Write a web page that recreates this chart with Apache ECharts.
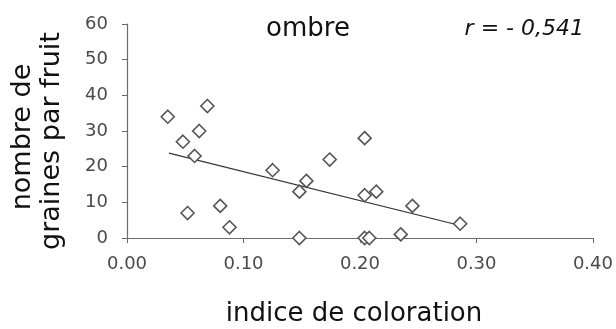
<!DOCTYPE html>
<html>
<head>
<meta charset="utf-8">
<script src="https://cdn.jsdelivr.net/npm/echarts@6/dist/echarts.min.js"></script>
<style>
html,body{margin:0;padding:0;background:#fff;}
#chart{width:616px;height:329px;}
</style>
</head>
<body>
<div id="chart"></div>
<script>
// Data
var xValues = [0.035, 0.048, 0.069, 0.062, 0.058, 0.052, 0.080, 0.088, 0.125, 0.148, 0.154, 0.148, 0.174, 0.204, 0.204, 0.214, 0.245, 0.286, 0.204, 0.208, 0.235];
var yValues = [34, 27, 37, 30, 23, 7, 9, 3, 19, 13, 16, 0, 22, 28, 12, 13, 9, 4, 0, 0, 1];
var trendX = [0.036, 0.286];
var trendY = [23.8, 3.5];
var xTicks = [0, 0.1, 0.2, 0.3, 0.4];
var yTicks = [0, 10, 20, 30, 40, 50, 60];
var titleText = 'ombre';
var rText = 'r = - 0,541';
var xTitle = 'indice de coloration';
var yTitle1 = 'nombre de';
var yTitle2 = 'graines par fruit';

var pts = xValues.map(function (x, i) { return [x, yValues[i]]; });
var trend = trendX.map(function (x, i) { return [x, trendY[i]]; });
var FONT = 'DejaVu Sans';

var chart = echarts.init(document.getElementById('chart'), null, {renderer: 'canvas'});
chart.setOption({
  animation: false,
  backgroundColor: '#fff',
  grid: {left: 127, right: 22, top: 24, bottom: 91, containLabel: false},
  xAxis: {
    type: 'value',
    min: xTicks[0], max: xTicks[xTicks.length - 1], interval: 0.1,
    axisLine: {show: true, lineStyle: {color: '#6a6a6a', width: 1.2}},
    axisTick: {show: true, inside: false, length: 5, lineStyle: {color: '#6a6a6a'}},
    splitLine: {show: false},
    axisLabel: {
      margin: 17, color: '#4a4a4a', fontFamily: FONT, fontSize: 18,
      formatter: function (v) { return v.toFixed(2); }
    }
  },
  yAxis: {
    type: 'value',
    min: yTicks[0], max: yTicks[yTicks.length - 1], interval: 10,
    axisLine: {show: true, lineStyle: {color: '#6a6a6a', width: 1.2}},
    axisTick: {show: true, inside: false, length: 5, lineStyle: {color: '#6a6a6a'}},
    splitLine: {show: false},
    axisLabel: {margin: 19, color: '#4a4a4a', fontFamily: FONT, fontSize: 18}
  },
  graphic: [
    {type: 'text', left: null, x: 308, y: 29, style: {text: titleText, font: '26px "' + FONT + '"', fill: '#111', textAlign: 'center', textVerticalAlign: 'middle'}},
    {type: 'text', x: 584, y: 29, style: {text: rText, font: 'italic 22px "' + FONT + '"', fill: '#111', textAlign: 'right', textVerticalAlign: 'middle'}},
    {type: 'text', x: 354, y: 314, style: {text: xTitle, font: '26px "' + FONT + '"', fill: '#111', textAlign: 'center', textVerticalAlign: 'middle'}},
    {type: 'text', x: 23, y: 137, rotation: Math.PI / 2, style: {text: yTitle1, font: '27px "' + FONT + '"', fill: '#111', textAlign: 'center', textVerticalAlign: 'middle'}},
    {type: 'text', x: 52, y: 141, rotation: Math.PI / 2, style: {text: yTitle2, font: '27px "' + FONT + '"', fill: '#111', textAlign: 'center', textVerticalAlign: 'middle'}}
  ],
  series: [
    {
      type: 'line', data: trend, symbol: 'none', z: 1,
      lineStyle: {color: '#333', width: 1.2}
    },
    {
      type: 'scatter', data: pts, symbol: 'diamond', symbolSize: 13, z: 3,
      itemStyle: {color: '#fff', borderColor: '#555', borderWidth: 1.6, opacity: 1}
    }
  ]
});
</script>
</body>
</html>
